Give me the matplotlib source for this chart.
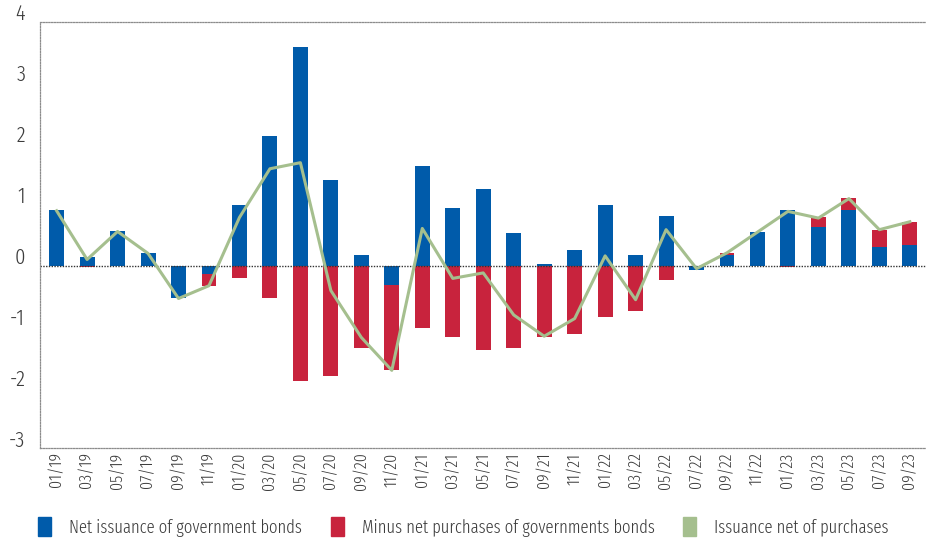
import matplotlib
matplotlib.use("Agg")
import matplotlib.pyplot as plt
import matplotlib.transforms as mtransforms
from matplotlib.patches import Patch
import numpy as np

periods = ["01/19", "03/19", "05/19", "07/19", "09/19", "11/19",
           "01/20", "03/20", "05/20", "07/20", "09/20", "11/20",
           "01/21", "03/21", "05/21", "07/21", "09/21", "11/21",
           "01/22", "03/22", "05/22", "07/22", "09/22", "11/22",
           "01/23", "03/23", "05/23", "07/23", "09/23"]

net_issuance = [0.91, 0.14, 0.57, 0.21, -0.54, -0.13,
                1.00, 2.12, 3.59, 1.41, 0.18, -0.32,
                1.64, 0.95, 1.26, 0.54, 0.02, 0.25,
                1.00, 0.18, 0.82, -0.07, 0.17, 0.55,
                0.91, 0.64, 0.92, 0.30, 0.34]

minus_purchases = [-0.01, -0.03, -0.01, -0.01, 0.0, -0.20,
                   -0.21, -0.53, -1.90, -1.82, -1.36, -1.40,
                   -1.03, -1.17, -1.38, -1.35, -1.18, -1.12,
                   -0.84, -0.74, -0.23, 0.0, 0.04, -0.01,
                   -0.02, 0.15, 0.19, 0.29, 0.38]

issuance_net = [0.90, 0.10, 0.56, 0.20, -0.54, -0.33,
                0.79, 1.59, 1.69, -0.41, -1.18, -1.72,
                0.61, -0.21, -0.12, -0.81, -1.16, -0.87,
                0.16, -0.56, 0.59, -0.05, 0.21, 0.55,
                0.89, 0.78, 1.10, 0.59, 0.72]

BLUE = "#005BAA"
RED = "#C8233D"
GREEN = "#A5BF8E"
TEXT = "#3c3c3c"

plt.rcParams["font.family"] = ["Fira Sans Extra Condensed", "DejaVu Sans"]
plt.rcParams["font.weight"] = 300
plt.rcParams["axes.unicode_minus"] = False

fig = plt.figure(figsize=(9.26, 5.44), dpi=100)
ax = fig.add_axes([0.0437, 0.1759, 0.9563, 0.7837])

x = np.arange(len(periods))
blue = np.array(net_issuance)
red = np.array(minus_purchases)
# red stacks on the blue bar when both point the same way, otherwise from zero
red_bottom = np.where(np.sign(red) == np.sign(blue), blue, 0.0)

width = 0.49
ax.bar(x, blue, width, color=BLUE, zorder=2)
ax.bar(x, red, width, bottom=red_bottom, color=RED, zorder=2)
ax.plot(x, issuance_net, color=GREEN, lw=2.2, zorder=3)

ax.set_xlim(-0.53, len(periods) - 0.47)
ax.set_ylim(-3, 4)
ax.set_yticks(range(-3, 5))

ax.spines["right"].set_visible(False)
for side in ["top", "bottom", "left"]:
    ax.spines[side].set_linestyle((0, (1, 1.2)))
    ax.spines[side].set_color("#8c8c8c")
    ax.spines[side].set_linewidth(0.9)
ax.axhline(0, color="#333333", lw=1.0, ls=(0, (1, 1)), zorder=2.5)

ax.tick_params(axis="y", length=0, pad=11, labelsize=16, labelcolor=TEXT)
ax.tick_params(axis="x", length=0, pad=3, labelsize=12.5, labelcolor=TEXT)
ax.set_xticks(x)
ax.set_xticklabels(periods, rotation=90)

offset = mtransforms.ScaledTranslation(0, 0.10, fig.dpi_scale_trans)
for lab in ax.get_yticklabels():
    lab.set_transform(lab.get_transform() + offset)

handles = [Patch(color=BLUE), Patch(color=RED), Patch(color=GREEN)]
labels = ["Net issuance of government bonds",
          "Minus net purchases of governments bonds",
          "Issuance net of purchases"]
leg = fig.legend(handles, labels, loc="center left", bbox_to_anchor=(0.024, 0.031),
                 ncol=3, frameon=False, fontsize=13, handlelength=0.7,
                 handleheight=1.2, handletextpad=1.0, columnspacing=1.6)
for t in leg.get_texts():
    t.set_color(TEXT)

fig.savefig("out.png", dpi=100)
